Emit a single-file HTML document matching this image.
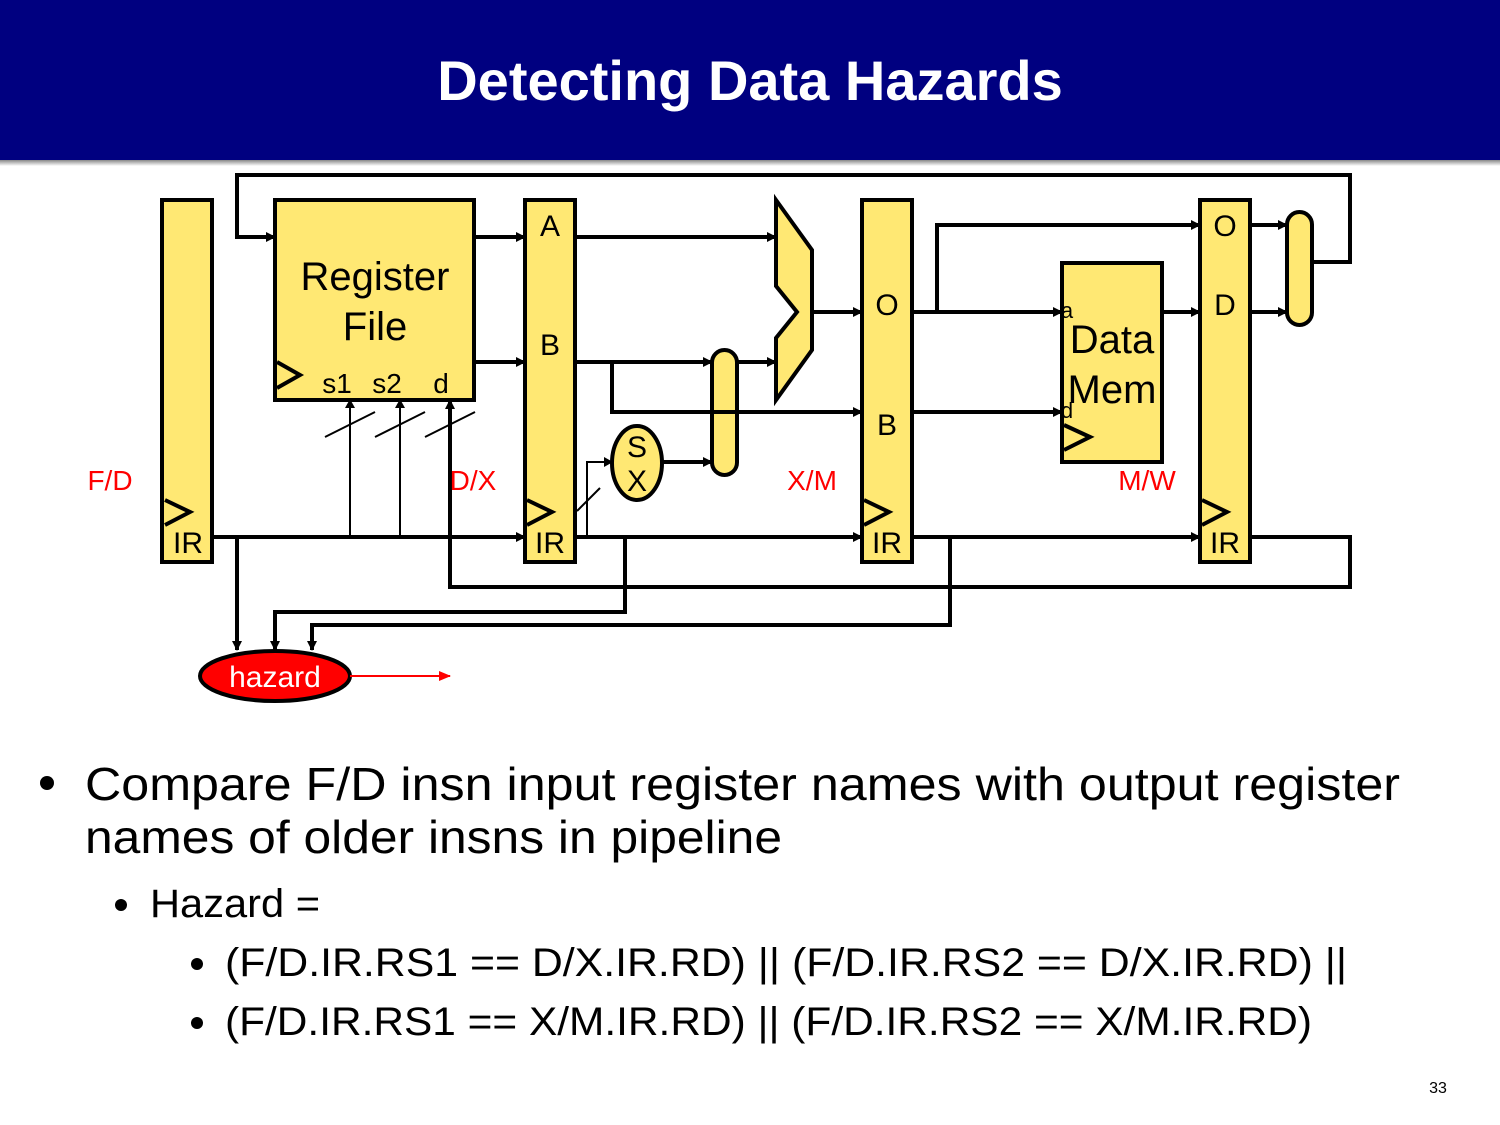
<!DOCTYPE html>
<html><head><meta charset="utf-8"><style>
html,body{margin:0;padding:0;background:#fff;}
svg{display:block;}
</style></head><body>
<svg width="1500" height="1125" viewBox="0 0 1500 1125" xmlns="http://www.w3.org/2000/svg" font-family="'Liberation Sans', Arial, sans-serif">
<defs>
<marker id="ah" markerWidth="10" markerHeight="10" refX="9" refY="5" orient="auto" markerUnits="userSpaceOnUse"><path d="M0,0 L10,5 L0,10 z" fill="#000"/></marker>
<marker id="ahs" markerWidth="9" markerHeight="10" refX="8" refY="5" orient="auto" markerUnits="userSpaceOnUse"><path d="M0,0 L9,5 L0,10 z" fill="#000"/></marker>
<marker id="ahr" markerWidth="12" markerHeight="10" refX="11" refY="5" orient="auto" markerUnits="userSpaceOnUse"><path d="M0,0 L12,5 L0,10 z" fill="#f00"/></marker>
<linearGradient id="sh" x1="0" y1="0" x2="0" y2="1"><stop offset="0" stop-color="#888"/><stop offset="1" stop-color="#fff"/></linearGradient>
</defs>
<rect x="0" y="0" width="1500" height="160" fill="#000080"/>
<rect x="0" y="160" width="1500" height="6" fill="url(#sh)"/>
<text x="750" y="100" text-anchor="middle" font-size="56" font-weight="bold" fill="#fff">Detecting Data Hazards</text>

<g fill="#FFE873" stroke="#000" stroke-width="4">
<rect x="162" y="200" width="50" height="362"/>
<rect x="275" y="200" width="199" height="200"/>
<rect x="525" y="200" width="50" height="362"/>
<rect x="862" y="200" width="50" height="362"/>
<rect x="1200" y="200" width="50" height="362"/>
<rect x="1062" y="263" width="100" height="199"/>
<polygon points="776,200 812,250 812,350 776,400 776,338 797,312 776,286"/>
<rect x="712" y="350" width="25" height="125" rx="12.5"/>
<rect x="1287" y="212" width="25" height="113" rx="12.5"/>
<ellipse cx="637" cy="463" rx="25" ry="37"/>
</g>
<ellipse cx="275" cy="676" rx="75" ry="25" fill="#f00" stroke="#000" stroke-width="4"/>

<g fill="none" stroke="#000" stroke-width="4" stroke-linejoin="miter">
<polyline points="1312,262 1350,262 1350,175 237,175 237,237 275,237" marker-end="url(#ah)"/>
<line x1="474" y1="237" x2="525" y2="237" marker-end="url(#ah)"/>
<line x1="474" y1="362" x2="525" y2="362" marker-end="url(#ah)"/>
<line x1="575" y1="237" x2="776" y2="237" marker-end="url(#ah)"/>
<line x1="575" y1="362" x2="712" y2="362" marker-end="url(#ah)"/>
<polyline points="612,362 612,412 862,412" marker-end="url(#ah)"/>
<line x1="737" y1="362" x2="776" y2="362" marker-end="url(#ah)"/>
<line x1="662" y1="462" x2="712" y2="462" marker-end="url(#ah)"/>
<line x1="812" y1="312" x2="862" y2="312" marker-end="url(#ah)"/>
<line x1="912" y1="312" x2="1062" y2="312" marker-end="url(#ah)"/>
<polyline points="937,312 937,225 1200,225" marker-end="url(#ah)"/>
<line x1="912" y1="412" x2="1062" y2="412" marker-end="url(#ah)"/>
<line x1="1162" y1="312" x2="1200" y2="312" marker-end="url(#ah)"/>
<line x1="1250" y1="225" x2="1287" y2="225" marker-end="url(#ah)"/>
<line x1="1250" y1="312" x2="1287" y2="312" marker-end="url(#ah)"/>
<line x1="212" y1="537" x2="525" y2="537" marker-end="url(#ah)"/>
<line x1="575" y1="537" x2="862" y2="537" marker-end="url(#ah)"/>
<line x1="912" y1="537" x2="1200" y2="537" marker-end="url(#ah)"/>
<polyline points="1250,537 1350,537 1350,587 450,587 450,400" marker-end="url(#ah)"/>
<line x1="237" y1="537" x2="237" y2="650" marker-end="url(#ah)"/>
<polyline points="625,537 625,612 275,612 275,650" marker-end="url(#ah)"/>
<polyline points="950,537 950,625 312,625 312,650" marker-end="url(#ah)"/>
</g>
<g fill="none" stroke="#000" stroke-width="2">
<line x1="350" y1="537" x2="350" y2="400" marker-end="url(#ahs)"/>
<line x1="400" y1="537" x2="400" y2="400" marker-end="url(#ahs)"/>
<line x1="325" y1="437" x2="375" y2="412"/>
<line x1="375" y1="437" x2="425" y2="412"/>
<line x1="425" y1="437" x2="475" y2="412"/>
<polyline points="587,537 587,462 612,462" marker-end="url(#ahs)"/>
<line x1="577" y1="511" x2="600" y2="488"/>
</g>
<line x1="350" y1="676" x2="450" y2="676" stroke="#f00" stroke-width="2" marker-end="url(#ahr)"/>

<g fill="none" stroke="#000" stroke-width="4">
<polyline points="165,500 190,512 165,525"/>
<polyline points="527,500 552,512 527,525"/>
<polyline points="864,500 889,512 864,525"/>
<polyline points="1202,500 1227,512 1202,525"/>
<polyline points="277,362 300,375 277,388"/>
<polyline points="1064,425 1090,437 1064,450"/>
</g>

<g font-size="30" fill="#000" text-anchor="middle">
<text x="188" y="553">IR</text>
<text x="550" y="236">A</text>
<text x="550" y="355">B</text>
<text x="550" y="553">IR</text>
<text x="887" y="315">O</text>
<text x="887" y="435">B</text>
<text x="887" y="553">IR</text>
<text x="1225" y="236">O</text>
<text x="1225" y="315">D</text>
<text x="1225" y="553">IR</text>
<text x="637" y="457">S</text>
<text x="637" y="491">X</text>
<text x="375" y="290" font-size="40">Register</text>
<text x="375" y="340" font-size="40">File</text>
<text x="337" y="393" font-size="28">s1</text>
<text x="387" y="393" font-size="28">s2</text>
<text x="441" y="393" font-size="28">d</text>
<text x="1112" y="353" font-size="40">Data</text>
<text x="1112" y="403" font-size="40">Mem</text>
<text x="1067" y="318" font-size="22">a</text>
<text x="1067" y="418" font-size="22">d</text>
<text x="275" y="687" font-size="30" fill="#fff">hazard</text>
</g>
<g font-size="28" fill="#f00" text-anchor="middle">
<text x="110" y="490">F/D</text>
<text x="473" y="490">D/X</text>
<text x="812" y="490">X/M</text>
<text x="1147" y="490">M/W</text>
</g>

<g fill="#000" font-size="46">
<circle cx="47" cy="783" r="7"/>
<text x="85" y="800" textLength="1315" lengthAdjust="spacingAndGlyphs">Compare F/D insn input register names with output register</text>
<text x="85" y="853" textLength="697" lengthAdjust="spacingAndGlyphs">names of older insns in pipeline</text>
<circle cx="121" cy="905" r="6"/>
<text x="150" y="917" font-size="40" textLength="170" lengthAdjust="spacingAndGlyphs">Hazard =</text>
<circle cx="197" cy="964" r="6"/>
<text x="225" y="976" font-size="40" textLength="1122" lengthAdjust="spacingAndGlyphs">(F/D.IR.RS1 == D/X.IR.RD) || (F/D.IR.RS2 == D/X.IR.RD) ||</text>
<circle cx="197" cy="1023" r="6"/>
<text x="225" y="1035" font-size="40" textLength="1087" lengthAdjust="spacingAndGlyphs">(F/D.IR.RS1 == X/M.IR.RD) || (F/D.IR.RS2 == X/M.IR.RD)</text>
<text x="1438" y="1093" font-size="16" text-anchor="middle">33</text>
</g>
</svg>
</body></html>
